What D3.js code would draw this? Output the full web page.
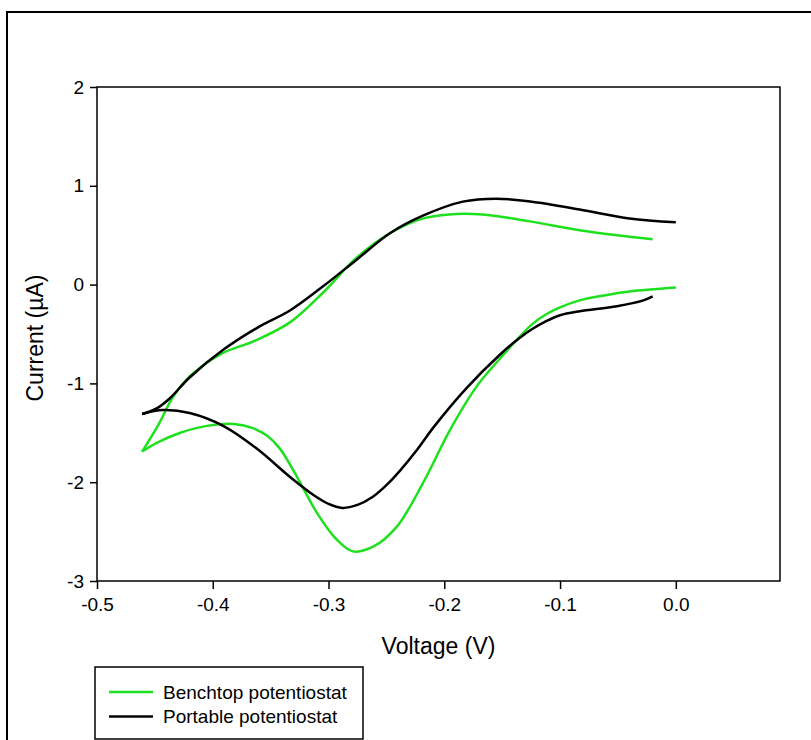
<!DOCTYPE html>
<html>
<head>
<meta charset="utf-8">
<script src="https://cdn.jsdelivr.net/npm/d3@7"></script>
<style>
  body { margin: 0; background: #fff; }
  text { font-family: "Liberation Sans", Arial, sans-serif; fill: #000; }
</style>
</head>
<body>
<div id="chart"></div>
<script>
// cyclic voltammograms, each loop split at the negative vertex
// [voltage (V), current (uA)]
const benchLower = [
  [0.0, -0.03], [-0.040, -0.07], [-0.062, -0.11], [-0.083, -0.16], [-0.100, -0.23],
  [-0.112, -0.30], [-0.124, -0.40], [-0.135, -0.53], [-0.152, -0.75], [-0.172, -1.03],
  [-0.195, -1.47], [-0.218, -2.0], [-0.241, -2.45], [-0.261, -2.65], [-0.279, -2.70],
  [-0.293, -2.58], [-0.310, -2.31], [-0.327, -1.95], [-0.342, -1.66], [-0.353, -1.53],
  [-0.366, -1.45], [-0.382, -1.41], [-0.405, -1.43], [-0.428, -1.50], [-0.448, -1.60],
  [-0.461, -1.69]
];
const benchUpper = [
  [-0.461, -1.69], [-0.447, -1.42], [-0.434, -1.13], [-0.420, -0.93], [-0.405, -0.79],
  [-0.391, -0.69], [-0.362, -0.56], [-0.333, -0.38], [-0.305, -0.085], [-0.276, 0.27],
  [-0.247, 0.52], [-0.218, 0.67], [-0.190, 0.715], [-0.167, 0.71], [-0.126, 0.64],
  [-0.083, 0.55], [-0.051, 0.50], [-0.020, 0.46]
];
const portLower = [
  [-0.020, -0.12], [-0.028, -0.16], [-0.051, -0.22], [-0.083, -0.27], [-0.100, -0.31],
  [-0.112, -0.37], [-0.124, -0.45], [-0.135, -0.54], [-0.152, -0.71], [-0.181, -1.05],
  [-0.209, -1.44], [-0.224, -1.68], [-0.238, -1.88], [-0.250, -2.03], [-0.262, -2.15],
  [-0.275, -2.23], [-0.288, -2.26], [-0.300, -2.22], [-0.313, -2.13], [-0.333, -1.95],
  [-0.362, -1.66], [-0.391, -1.43], [-0.420, -1.30], [-0.443, -1.27], [-0.461, -1.31]
];
const portUpper = [
  [-0.461, -1.31], [-0.448, -1.25], [-0.437, -1.15], [-0.420, -0.94], [-0.391, -0.66],
  [-0.362, -0.44], [-0.333, -0.26], [-0.305, -0.02], [-0.276, 0.25], [-0.247, 0.52],
  [-0.218, 0.70], [-0.184, 0.84], [-0.155, 0.87], [-0.126, 0.84], [-0.083, 0.76],
  [-0.040, 0.67], [0.0, 0.63]
];

const seriesNames = ["Benchtop potentiostat", "Portable potentiostat"];
const seriesColors = ["#1ee01e", "#000000"];
const xTicks = [-0.5, -0.4, -0.3, -0.2, -0.1, 0.0];
const yTicks = [-3, -2, -1, 0, 1, 2];

const W = 811, H = 740;
const margin = {top: 87, right: 31, bottom: 159, left: 97},
  width = W - margin.left - margin.right,
  height = H - margin.top - margin.bottom;

const svg = d3.select("#chart").append("svg")
  .attr("width", W)
  .attr("height", H);

// outer frame (top and left edges only visible)
svg.append("path")
  .attr("d", `M7,${H}V12H${W}`)
  .attr("fill", "none")
  .attr("stroke", "#000")
  .attr("stroke-width", 2);

const g = svg.append("g")
  .attr("transform", `translate(${margin.left},${margin.top})`);

const x = d3.scaleLinear().domain([-0.5, 0.09]).range([0, width]);
const y = d3.scaleLinear().domain([-3, 2]).range([height, 0]);

// plot box
g.append("rect")
  .attr("width", width)
  .attr("height", height)
  .attr("fill", "none")
  .attr("stroke", "#000")
  .attr("stroke-width", 1.5);

// axes
const xAxis = g.append("g")
  .attr("transform", `translate(0,${height})`)
  .call(d3.axisBottom(x).tickValues(xTicks).tickSize(8).tickPadding(9));
const yAxis = g.append("g")
  .call(d3.axisLeft(y).tickValues(yTicks).tickSize(7).tickPadding(6));

[xAxis, yAxis].forEach(function(a) {
  a.select(".domain").remove();
  a.selectAll(".tick line").attr("stroke", "#000").attr("stroke-width", 1.5);
  a.selectAll(".tick text")
    .style("font-size", "19px")
    .style("font-family", "'Liberation Sans', Arial, sans-serif");
});
// plain hyphen minus like the original
xAxis.selectAll(".tick text").text(function(d) { return d.toFixed(1); });
yAxis.selectAll(".tick text").text(function(d) { return String(d); });

// curves
const line = d3.line()
  .x(function(d) { return x(d[0]); })
  .y(function(d) { return y(d[1]); })
  .curve(d3.curveCatmullRom.alpha(0.5));

const branches = [
  {data: benchLower, color: seriesColors[0]},
  {data: benchUpper, color: seriesColors[0]},
  {data: portLower, color: seriesColors[1]},
  {data: portUpper, color: seriesColors[1]}
];

g.selectAll(".curve")
  .data(branches)
  .join("path")
    .attr("class", "curve")
    .attr("d", function(d) { return line(d.data); })
    .attr("fill", "none")
    .attr("stroke", function(d) { return d.color; })
    .attr("stroke-width", 2.5)
    .attr("stroke-linejoin", "round");

// axis titles
svg.append("text")
  .attr("x", margin.left + width / 2)
  .attr("y", 654)
  .attr("text-anchor", "middle")
  .style("font-size", "23px")
  .text("Voltage (V)");

svg.append("text")
  .attr("transform", `translate(43,338) rotate(-90)`)
  .attr("text-anchor", "middle")
  .style("font-size", "23px")
  .text("Current (\u00b5A)");

// legend
const legend = svg.append("g");
legend.append("rect")
  .attr("x", 95).attr("y", 667)
  .attr("width", 268).attr("height", 72)
  .attr("fill", "#fff")
  .attr("stroke", "#000")
  .attr("stroke-width", 1.5);

const items = legend.selectAll(".item")
  .data(seriesNames)
  .join("g")
    .attr("class", "item")
    .attr("transform", function(d, i) { return `translate(0,${692 + i * 24.5})`; });

items.append("line")
  .attr("x1", 109).attr("x2", 153)
  .attr("stroke", function(d, i) { return seriesColors[i]; })
  .attr("stroke-width", 2.5);

items.append("text")
  .attr("x", 163)
  .attr("dy", "0.35em")
  .style("font-size", "19px")
  .text(function(d) { return d; });
</script>
</body>
</html>
